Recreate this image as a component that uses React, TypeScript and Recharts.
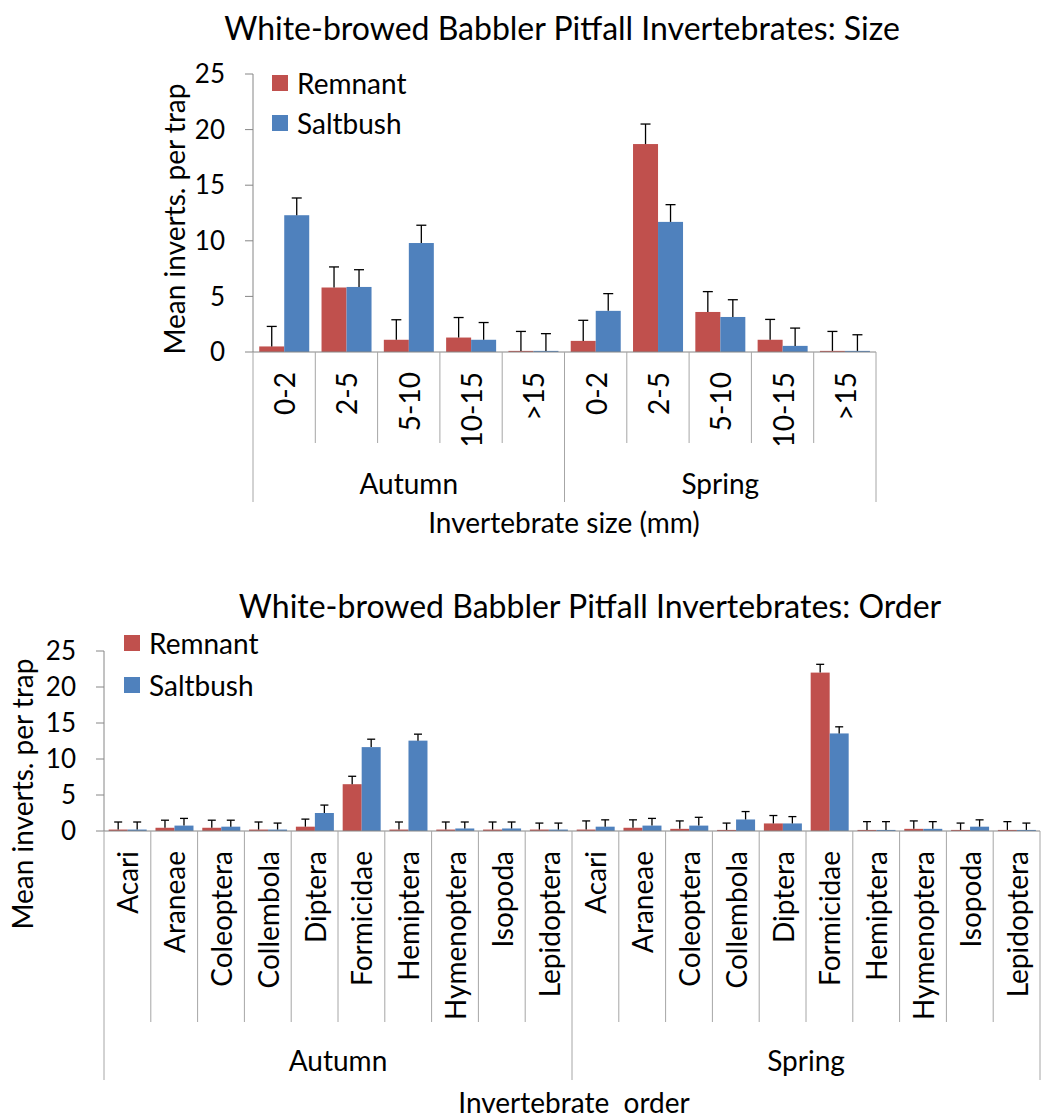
import { BarChart, Bar, XAxis, YAxis, Legend } from 'recharts';

const SEASONS = ['Autumn', 'Spring'];

// size chart
const SIZE_CLASSES = ['0-2', '2-5', '5-10', '10-15', '>15'];
const SIZE_REMNANT = [0.5, 5.8, 1.1, 1.3, 0.1, 1.0, 18.7, 3.6, 1.1, 0.1];
const SIZE_REMNANT_SE = [1.8, 1.85, 1.8, 1.8, 1.75, 1.85, 1.8, 1.83, 1.83, 1.75];
const SIZE_SALTBUSH = [12.3, 5.85, 9.8, 1.1, 0.1, 3.7, 11.7, 3.15, 0.55, 0.1];
const SIZE_SALTBUSH_SE = [1.55, 1.55, 1.6, 1.55, 1.55, 1.55, 1.55, 1.55, 1.6, 1.45];

// order chart
const ORDERS = ['Acari', 'Araneae', 'Coleoptera', 'Collembola', 'Diptera', 'Formicidae', 'Hemiptera', 'Hymenoptera', 'Isopoda', 'Lepidoptera'];
const ORDER_REMNANT = [0.2, 0.45, 0.45, 0.2, 0.6, 6.5, 0.2, 0.2, 0.2, 0.2, 0.2, 0.45, 0.3, 0.15, 1.05, 22.0, 0.15, 0.3, 0.15, 0.15];
const ORDER_REMNANT_SE = [1.05, 1.05, 1.05, 1.05, 1.05, 1.1, 1.05, 1.05, 1.05, 0.9, 1.2, 1.1, 1.1, 0.95, 1.1, 1.15, 1.15, 1.1, 0.95, 1.15];
const ORDER_SALTBUSH = [0.2, 0.75, 0.6, 0.2, 2.5, 11.65, 12.55, 0.35, 0.35, 0.2, 0.6, 0.75, 0.75, 1.6, 1.05, 13.55, 0.15, 0.3, 0.6, 0.15];
const ORDER_SALTBUSH_SE = [1.05, 1.0, 0.9, 0.9, 1.1, 1.1, 0.9, 0.9, 0.9, 0.9, 0.95, 1.0, 1.15, 1.1, 0.95, 0.92, 1.15, 1.0, 0.95, 0.95];

const Y_TICKS = [0, 5, 10, 15, 20, 25];
const Y_MAX = 25;

const RED = '#C0504D';
const BLUE = '#4F81BD';
const AXIS = '#868686';
const SEP = '#A6A6A6';
const FONT = 'Lato, "Open Sans", sans-serif';
const FS = 28;

function buildRows(cats: string[], rem: number[], remSe: number[], sal: number[], salSe: number[]) {
  const rows: any[] = [];
  SEASONS.forEach((season, s) => {
    cats.forEach((cat, i) => {
      const k = s * cats.length + i;
      rows.push({ key: season + ' ' + cat, label: cat, season, rem: rem[k], remSe: remSe[k], sal: sal[k], salSe: salSe[k] });
    });
  });
  return rows;
}

const sizeData = buildRows(SIZE_CLASSES, SIZE_REMNANT, SIZE_REMNANT_SE, SIZE_SALTBUSH, SIZE_SALTBUSH_SE);
const orderData = buildRows(ORDERS, ORDER_REMNANT, ORDER_REMNANT_SE, ORDER_SALTBUSH, ORDER_SALTBUSH_SE);

// bar with a plus-only error bar on top, like Excel
const barWithError = (valKey: string, seKey: string, cap: number) => (props: any) => {
  const { x, y, width, height, fill, payload, background } = props;
  const ppu = background && background.height ? background.height / Y_MAX : height / (payload[valKey] || 1);
  const cx = x + width / 2;
  const top = y - payload[seKey] * ppu;
  return (
    <g>
      <rect x={x} y={y} width={width} height={height} fill={fill} />
      <line x1={cx} y1={y} x2={cx} y2={top} stroke="#000" strokeWidth={1.3} />
      <line x1={cx - cap} y1={top} x2={cx + cap} y2={top} stroke="#000" strokeWidth={1.3} />
    </g>
  );
};

// two-level category tick: rotated label + separators + season label
const makeTick = (rows: any[], groupSize: number, inner: number, outer: number, seasonY: number) => (props: any) => {
  const { x, y, payload, index } = props;
  const total = rows.length;
  const bw = payload && payload.offset ? payload.offset * 2 : 0;
  const first = index % groupSize === 0;
  const left = x - bw / 2;
  const season = rows[index] ? rows[index].season : '';
  return (
    <g>
      <line x1={left} y1={y} x2={left} y2={y + (first ? outer : inner)} stroke={SEP} />
      {index === total - 1 && <line x1={x + bw / 2} y1={y} x2={x + bw / 2} y2={y + outer} stroke={SEP} />}
      <text
        x={x}
        y={y + 20}
        transform={`rotate(-90, ${x}, ${y + 20})`}
        textAnchor="end"
        dominantBaseline="central"
        fontFamily={FONT}
        fontSize={FS}
        fill="#000"
      >
        {payload.value}
      </text>
      {first && (
        <text x={left + (groupSize * bw) / 2} y={y + seasonY} textAnchor="middle" dominantBaseline="central" fontFamily={FONT} fontSize={FS} fill="#000">
          {season}
        </text>
      )}
    </g>
  );
};

const legendContent = (gap: number) => (props: any) => (
  <div style={{ fontFamily: FONT, fontSize: FS, color: '#000' }}>
    {(props.payload || []).map((p: any) => (
      <div key={p.value} style={{ display: 'flex', alignItems: 'center', height: gap }}>
        <div style={{ width: 16, height: 16, background: p.color, marginRight: 9 }} />
        <span>{p.value}</span>
      </div>
    ))}
  </div>
);

const titleStyle: any = { position: 'absolute', fontFamily: FONT, fontSize: 32, color: '#000', whiteSpace: 'pre', transform: 'translate(-50%, -50%)', lineHeight: 1 };
const labelStyle: any = { position: 'absolute', fontFamily: FONT, fontSize: FS, color: '#000', whiteSpace: 'pre', transform: 'translate(-50%, -50%)', lineHeight: 1 };
const yLabelStyle: any = { ...labelStyle, transform: 'translate(-50%, -50%) rotate(-90deg)' };

function PitfallChart({ data, top, height, margin, xHeight, groupSize, inner, outer, seasonY, cap, legendPos, legendGap }: any) {
  return (
    <div style={{ position: 'absolute', left: 0, top, width: 1041, height }}>
      <BarChart width={1041} height={height} data={data} margin={margin} barCategoryGap="10%" barGap={0}>
        <XAxis
          dataKey="label"
          interval={0}
          height={xHeight}
          stroke={AXIS}
          tickLine={false}
          tickSize={0}
          tickMargin={0}
          tick={makeTick(data, groupSize, inner, outer, seasonY)}
        />
        <YAxis
          width={60}
          domain={[0, Y_MAX]}
          ticks={Y_TICKS}
          interval={0}
          stroke={AXIS}
          tickSize={8}
          tickMargin={20}
          tick={{ fill: '#000', fontFamily: FONT, fontSize: 26 }}
        />
        <Legend
          layout="vertical"
          align="center"
          verticalAlign="middle"
          content={legendContent(legendGap)}
          wrapperStyle={{ left: legendPos[0], top: legendPos[1], width: 180, height: 2 * legendGap }}
        />
        <Bar dataKey="rem" name="Remnant" fill={RED} isAnimationActive={false} shape={barWithError('rem', 'remSe', cap)} />
        <Bar dataKey="sal" name="Saltbush" fill={BLUE} isAnimationActive={false} shape={barWithError('sal', 'salSe', cap)} />
      </BarChart>
    </div>
  );
}

export default function App() {
  return (
    <div style={{ position: 'absolute', left: 0, top: 0, width: 1041, height: 1118, background: '#fff' }}>
      <div style={{ ...titleStyle, left: 562, top: 28 }}>White-browed Babbler Pitfall Invertebrates: Size</div>
      <div style={{ ...yLabelStyle, left: 174, top: 219 }}>Mean inverts. per trap</div>
      <div style={{ ...labelStyle, left: 564, top: 522 }}>Invertebrate size (mm)</div>
      <PitfallChart
        data={sizeData}
        top={0}
        height={540}
        margin={{ top: 74, right: 165, bottom: 18, left: 193 }}
        xHeight={170}
        groupSize={SIZE_CLASSES.length}
        inner={91}
        outer={150}
        seasonY={131}
        cap={5}
        legendPos={[272, 63]}
        legendGap={40}
      />

      <div style={{ ...titleStyle, left: 590, top: 606 }}>White-browed Babbler Pitfall Invertebrates: Order</div>
      <div style={{ ...yLabelStyle, left: 22, top: 794 }}>Mean inverts. per trap</div>
      <div style={{ ...labelStyle, left: 574, top: 1102 }}>Invertebrate  order</div>
      <PitfallChart
        data={orderData}
        top={580}
        height={538}
        margin={{ top: 71, right: 1, bottom: 18, left: 44 }}
        xHeight={269}
        groupSize={ORDERS.length}
        inner={191}
        outer={249}
        seasonY={229}
        cap={4}
        legendPos={[124, 42]}
        legendGap={42}
      />
    </div>
  );
}
